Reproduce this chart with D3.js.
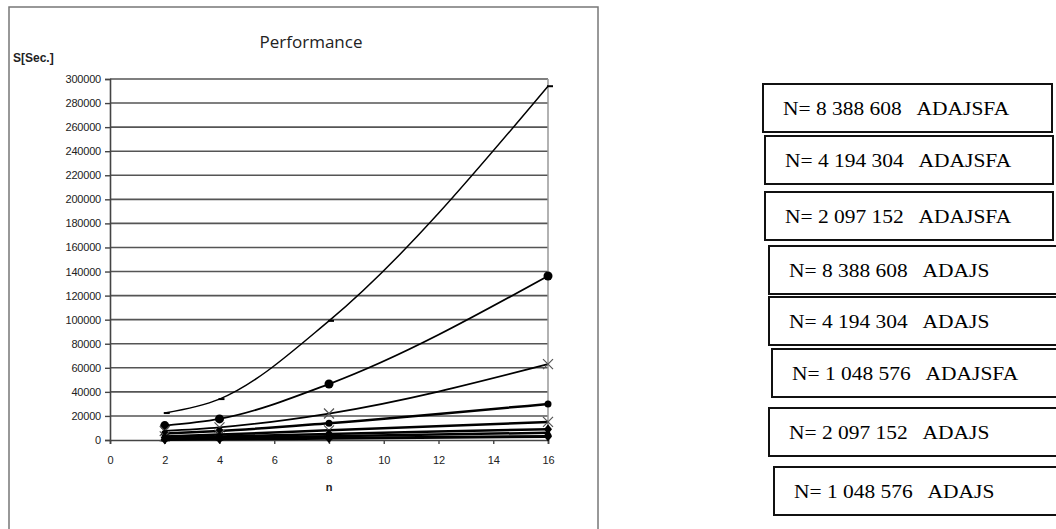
<!DOCTYPE html>
<html>
<head>
<meta charset="utf-8">
<script src="https://cdn.jsdelivr.net/npm/d3@7"></script>
<style>
  body { margin: 0; background: #fff; }
  svg { display: block; }
</style>
</head>
<body>
<div id="chart"></div>
<script>
// data
var nValues = [2, 4, 8, 16];
var seriesNames = [
  "N= 8 388 608   ADAJSFA",
  "N= 4 194 304   ADAJSFA",
  "N= 2 097 152   ADAJSFA",
  "N= 8 388 608   ADAJS",
  "N= 4 194 304   ADAJS",
  "N= 1 048 576   ADAJSFA",
  "N= 2 097 152   ADAJS",
  "N= 1 048 576   ADAJS"
];
var times1 = [22400, 34000, 99000, 294000];
var times2 = [12000, 17500, 46500, 136300];
var times3 = [7500, 10500, 22000, 63000];
var times4 = [5500, 7500, 14000, 30000];
var times5 = [3000, 4500, 8000, 15000];
var times6 = [2000, 3000, 5000, 9000];
var times7 = [1200, 1800, 3200, 6000];
var times8 = [500, 800, 1500, 3000];
var yTicks = d3.range(0, 300001, 20000);
var xTicks = [0, 2, 4, 6, 8, 10, 12, 14, 16];

var allSeries = [times1, times2, times3, times4, times5, times6, times7, times8];
var markers = ["dash", "bigcircle", "cross", "circle", "cross", "diamond", "triangle", "diamond"];
var widths = [1.5, 1.8, 1.8, 2.5, 2.5, 2.5, 2.5, 3];

var svgWidth = 1056;
var svgHeight = 529;

var svg = d3.select("#chart")
  .append("svg")
  .attr("width", svgWidth)
  .attr("height", svgHeight);

// chart frame
svg.append("rect")
  .attr("x", 9).attr("y", 7)
  .attr("width", 589).attr("height", 540)
  .attr("fill", "none")
  .attr("stroke", "#777")
  .attr("stroke-width", 1.5);

var xScale = d3.scaleLinear().domain([0, 16]).range([110, 548]);
var yScale = d3.scaleLinear().domain([0, 300000]).range([440, 79]);

// grid lines
svg.append("g")
  .selectAll("line")
  .data(yTicks.slice(1))
  .enter()
  .append("line")
  .attr("x1", xScale(0)).attr("x2", xScale(16))
  .attr("y1", d => yScale(d)).attr("y2", d => yScale(d))
  .attr("stroke", "#555")
  .attr("stroke-width", 1.6);

// right border of plot area
svg.append("line")
  .attr("x1", xScale(16)).attr("x2", xScale(16))
  .attr("y1", yScale(300000)).attr("y2", yScale(0))
  .attr("stroke", "#999")
  .attr("stroke-width", 1.5);

var leftAxis = d3.axisLeft(yScale)
  .tickValues(yTicks)
  .tickSize(5)
  .tickPadding(4)
  .tickFormat(d3.format("d"));

var bottomAxis = d3.axisBottom(xScale)
  .tickValues(xTicks)
  .tickSize(4)
  .tickPadding(12)
  .tickFormat(d3.format("d"));

var yAxisG = svg.append("g")
  .attr("transform", `translate(${xScale(0)},0)`)
  .call(leftAxis);

var xAxisG = svg.append("g")
  .attr("transform", `translate(0,${yScale(0)})`)
  .call(bottomAxis);

[yAxisG, xAxisG].forEach(function(g) {
  g.select(".domain").attr("stroke", "#444").attr("stroke-width", 1.6);
  g.selectAll(".tick line").attr("stroke", "#444").attr("stroke-width", 1.4);
  g.selectAll("text")
    .attr("font-family", "Liberation Sans, Arial, sans-serif")
    .attr("font-size", "11px")
    .attr("fill", "#222");
});
yAxisG.selectAll("text").attr("letter-spacing", "-0.2px");

// lines
var line = d3.line()
  .x(d => xScale(d[0]))
  .y(d => yScale(d[1]))
  .curve(d3.curveMonotoneX);

allSeries.forEach(function(vals, i) {
  var pts = nValues.map((n, j) => [n, vals[j]]);
  svg.append("path")
    .datum(pts)
    .attr("d", line)
    .attr("fill", "none")
    .attr("stroke", "#000")
    .attr("stroke-width", widths[i]);

  var g = svg.append("g");
  pts.forEach(function(p) {
    var cx = xScale(p[0]), cy = yScale(p[1]);
    var m = markers[i];
    if (m === "bigcircle") {
      g.append("circle").attr("cx", cx).attr("cy", cy).attr("r", 4.5).attr("fill", "#000");
    } else if (m === "circle") {
      g.append("circle").attr("cx", cx).attr("cy", cy).attr("r", 3.5).attr("fill", "#000");
    } else if (m === "cross") {
      g.append("path")
        .attr("d", `M${cx-5},${cy-5}L${cx+5},${cy+5}M${cx-5},${cy+5}L${cx+5},${cy-5}`)
        .attr("stroke", "#555").attr("stroke-width", 1.2);
    } else if (m === "diamond") {
      g.append("path")
        .attr("d", `M${cx},${cy-5}L${cx+4},${cy}L${cx},${cy+5}L${cx-4},${cy}Z`)
        .attr("fill", "#000");
    } else if (m === "triangle") {
      g.append("path")
        .attr("d", `M${cx},${cy-4}L${cx+4},${cy+3}L${cx-4},${cy+3}Z`)
        .attr("fill", "#000");
    } else if (m === "dash") {
      g.append("line")
        .attr("x1", cx - 1).attr("x2", cx + 5)
        .attr("y1", cy).attr("y2", cy)
        .attr("stroke", "#000").attr("stroke-width", 2);
    }
  });
});

// titles
svg.append("text")
  .attr("x", 311).attr("y", 48)
  .attr("text-anchor", "middle")
  .attr("font-family", "Open Sans, sans-serif")
  .attr("font-size", "17px")
  .attr("fill", "#222")
  .text("Performance");

svg.append("text")
  .attr("x", 13).attr("y", 62)
  .attr("font-family", "Liberation Sans, Arial, sans-serif")
  .attr("font-size", "12px")
  .attr("font-weight", "bold")
  .attr("fill", "#222")
  .text("S[Sec.]");

svg.append("text")
  .attr("x", xScale(8)).attr("y", 491)
  .attr("text-anchor", "middle")
  .attr("font-family", "Liberation Sans, Arial, sans-serif")
  .attr("font-size", "11px")
  .attr("font-weight", "bold")
  .attr("fill", "#222")
  .text("n");

// legend text boxes on the right
var boxX = [763, 765, 765, 769, 769, 772, 769, 774];
var boxY = [84, 136, 192, 246, 297, 349, 408, 467];
var boxW = [289, 288, 288, 300, 300, 300, 300, 300];

seriesNames.forEach(function(name, i) {
  svg.append("rect")
    .attr("x", boxX[i]).attr("y", boxY[i])
    .attr("width", boxW[i]).attr("height", 48)
    .attr("fill", "#fff")
    .attr("stroke", "#111")
    .attr("stroke-width", 2);
  svg.append("text")
    .attr("transform", `translate(${boxX[i] + 20},${boxY[i] + 31}) scale(1.16,1)`)
    .attr("font-family", "Liberation Serif, Times New Roman, serif")
    .attr("font-size", "18.5px")
    .attr("fill", "#000")
    .attr("xml:space", "preserve")
    .style("white-space", "pre")
    .text(name);
});
</script>
</body>
</html>
